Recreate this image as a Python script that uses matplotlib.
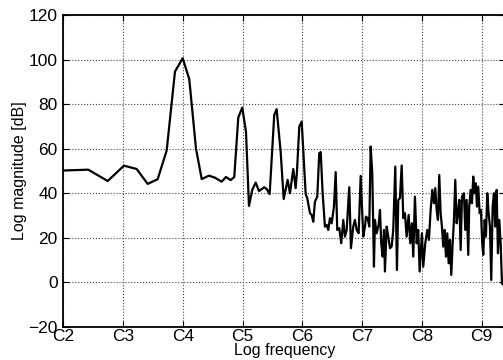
import matplotlib.pyplot as plt

plt.rcParams['font.family'] = ['Liberation Sans', 'DejaVu Sans']

# log frequency in octaves (C2 = 2) and magnitude in dB
octave = [1.98, 2.418, 2.743, 3.016, 3.228, 3.412, 3.579, 3.730, 3.869, 3.998,
          4.108, 4.220, 4.316, 4.438, 4.538, 4.650, 4.722, 4.801, 4.861, 4.928,
          4.995, 5.057, 5.107, 5.162, 5.219, 5.274, 5.363, 5.403, 5.453, 5.530,
          5.570, 5.637, 5.688, 5.754, 5.793, 5.848, 5.888, 5.910, 5.949, 5.989,
          6.056, 6.082, 6.128, 6.156, 6.183, 6.211, 6.250, 6.283, 6.307, 6.340,
          6.378, 6.407, 6.434, 6.462, 6.491, 6.529, 6.558, 6.584, 6.618, 6.651,
          6.685, 6.713, 6.742, 6.785, 6.813, 6.852, 6.880, 6.909, 6.942, 6.976,
          7.019, 7.048, 7.064, 7.093, 7.120, 7.143, 7.170, 7.198, 7.215, 7.243,
          7.277, 7.299, 7.320, 7.344, 7.366, 7.382, 7.411, 7.438, 7.466, 7.494,
          7.521, 7.555, 7.583, 7.605, 7.633, 7.662, 7.689, 7.717, 7.745, 7.779,
          7.806, 7.834, 7.856, 7.884, 7.913, 7.939, 7.963, 8.001, 8.023, 8.057,
          8.090, 8.118, 8.147, 8.174, 8.202, 8.224, 8.247, 8.269, 8.291, 8.314,
          8.336, 8.358, 8.381, 8.403, 8.425, 8.448, 8.470, 8.492, 8.515, 8.537,
          8.559, 8.582, 8.604, 8.626, 8.649, 8.671, 8.704, 8.726, 8.749, 8.776,
          8.792, 8.816, 8.838, 8.860, 8.877, 8.901, 8.922, 8.943, 8.967, 8.988,
          9.010, 9.027, 9.051, 9.072, 9.094, 9.117, 9.139, 9.161, 9.184, 9.206,
          9.228, 9.251, 9.273, 9.295, 9.318, 9.340, 9.390]
mag_db = [50.2, 50.6, 45.5, 52.4, 50.9, 44.2, 46.3, 59.2, 94.7, 100.7,
          91.3, 60.2, 46.4, 47.9, 47.0, 45.2, 47.3, 45.9, 47.3, 74.0,
          78.5, 67.7, 34.3, 41.5, 44.8, 41.0, 42.7, 41.9, 39.6, 75.2,
          77.8, 58.7, 37.4, 46.0, 40.0, 50.9, 42.3, 49.7, 70.0, 72.2,
          39.6, 37.8, 31.0, 30.3, 27.2, 36.2, 38.5, 58.0, 58.5, 40.0,
          25.0, 25.8, 23.5, 28.8, 26.5, 34.0, 49.5, 23.5, 24.3, 17.5,
          28.0, 20.5, 23.5, 42.7, 15.3, 25.0, 28.0, 23.5, 22.0, 47.8,
          20.5, 25.0, 29.5, 28.8, 25.0, 61.0, 49.0, 7.0, 28.0, 22.0,
          25.8, 32.5, 17.5, 11.5, 23.5, 4.8, 25.0, 20.5, 15.3, 16.0,
          23.5, 52.0, 5.5, 37.0, 37.8, 52.5, 28.8, 31.0, 20.5, 30.3,
          17.5, 26.5, 11.5, 38.5, 17.5, 23.5, 4.8, 22.0, 7.0, 17.5,
          23.5, 19.0, 32.5, 41.5, 35.5, 42.3, 32.5, 28.0, 48.2, 31.0,
          25.0, 16.0, 23.5, 11.5, 22.0, 8.5, 19.0, 3.3, 17.5, 28.0,
          46.0, 26.5, 31.0, 37.0, 14.5, 38.5, 40.0, 23.5, 37.0, 12.3,
          34.0, 41.5, 35.5, 47.5, 40.0, 44.5, 34.0, 43.0, 31.0, 32.5,
          17.5, 12.3, 28.0, 20.5, 40.0, 31.0, 25.0, 1.0, 34.0, 40.0,
          25.0, 41.5, 13.0, 28.0, 17.5, -0.5, -2.0]

note_pos = [2, 3, 4, 5, 6, 7, 8, 9]
note_labels = ['C2', 'C3', 'C4', 'C5', 'C6', 'C7', 'C8', 'C9']
y_ticks = [-20, 0, 20, 40, 60, 80, 100, 120]

fig = plt.figure(figsize=(5.03, 3.6), dpi=100)
ax = fig.add_axes([0.1258, 0.0925, 0.8789, 0.8650])
ax.plot(octave, mag_db, color='black', lw=1.6)

ax.set_xlim(2, 9.397)
ax.set_ylim(-20, 120)
ax.set_xticks(note_pos)
ax.set_xticklabels(note_labels)
ax.set_yticks(y_ticks)
ax.grid(True, linestyle=':', color='#444444', lw=0.8)
ax.tick_params(direction='in', top=True, right=True, labelsize=12.5, pad=4, length=4)
ax.tick_params(axis='x', pad=2)
for s in ax.spines.values():
    s.set_linewidth(1.3)

ax.set_xlabel('Log frequency', fontsize=11.5, labelpad=-1)
ax.set_ylabel('Log magnitude [dB]', fontsize=11.5, labelpad=1)

fig.savefig('out.png', dpi=100)
